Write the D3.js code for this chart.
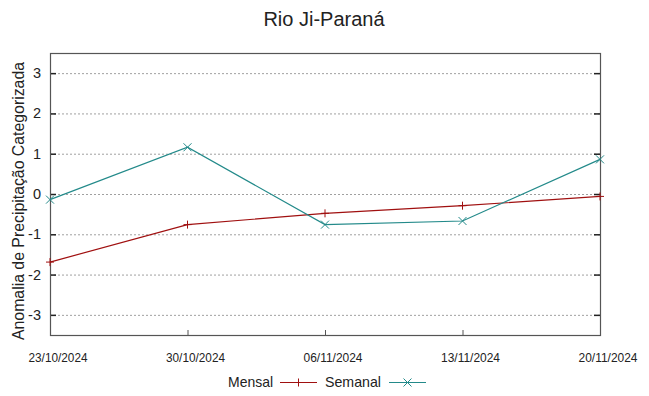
<!DOCTYPE html>
<meta charset="utf-8">
<style>
body { margin: 0; background: #fff; }
text { font-family: "Liberation Sans", Arial, sans-serif; fill: #222; }
.grid line { stroke: #a0a0a0; stroke-dasharray: 2,2; stroke-width: 1; }
</style>
<svg width="649" height="396"></svg>
<script src="https://d3js.org/d3.v7.min.js"></script>
<script>

var dates = ["23/10/2024", "30/10/2024", "06/11/2024", "13/11/2024", "20/11/2024"];
var mensal = [-1.69, -0.76, -0.48, -0.29, -0.06];
var semanal = [-0.14, 1.16, -0.76, -0.67, 0.86];
var yTicks = [-3, -2, -1, 0, 1, 2, 3];

var svg = d3.select("svg");
var pLeft = 50, pRight = 600, pTop = 53, pBottom = 335;

var parse = d3.timeParse("%d/%m/%Y");

var x = d3.scaleTime()
    .domain([parse(dates[0]), parse(dates[dates.length - 1])])
    .range([pLeft, pRight]);

var y = d3.scaleLinear()
    .domain([-3.5, 3.5])
    .range([pBottom, pTop]);

// grid
svg.append("g")
    .attr("class", "grid")
  .selectAll("line")
  .data(yTicks)
  .enter().append("line")
    .attr("x1", pLeft).attr("x2", pRight)
    .attr("y1", function(d) { return y(d) + 0.5; })
    .attr("y2", function(d) { return y(d) + 0.5; });

// y labels
svg.append("g").selectAll("text")
  .data(yTicks)
  .enter().append("text")
    .attr("x", 41)
    .attr("y", function(d) { return y(d) + 5; })
    .attr("text-anchor", "end")
    .style("font-size", "14.5px")
    .text(function(d) { return d; });

// tick marks left/right/bottom
var ticks = svg.append("g").attr("stroke", "#222").attr("stroke-width", 1.5);
yTicks.forEach(function(d) {
  ticks.append("line").attr("x1", pLeft).attr("x2", pLeft + 6)
      .attr("y1", y(d) + 0.5).attr("y2", y(d) + 0.5);
  ticks.append("line").attr("x1", pRight - 6).attr("x2", pRight)
      .attr("y1", y(d) + 0.5).attr("y2", y(d) + 0.5);
});
dates.forEach(function(d) {
  ticks.append("line")
      .attr("x1", x(parse(d)) + 0.5).attr("x2", x(parse(d)) + 0.5)
      .attr("y1", pBottom).attr("y2", pBottom - 5)
      .attr("stroke-width", 1).attr("stroke", "#555");
});

// x labels
svg.append("g").selectAll("text")
  .data(dates)
  .enter().append("text")
    .attr("x", function(d) { return x(parse(d)) + 8; })
    .attr("y", 362)
    .attr("text-anchor", "middle")
    .attr("textLength", 59)
    .attr("lengthAdjust", "spacingAndGlyphs")
    .style("font-size", "13px")
    .text(function(d) { return d; });

// border
svg.append("rect")
    .attr("x", pLeft + 0.5).attr("y", pTop + 0.5)
    .attr("width", pRight - pLeft).attr("height", pBottom - pTop)
    .attr("fill", "none")
    .attr("stroke", "#555")
    .attr("stroke-width", 1.2);

var line = d3.line()
    .x(function(d, i) { return x(parse(dates[i])); })
    .y(function(d) { return y(d); });

function plus(g, cx, cy, color) {
  g.append("path").attr("d", "M" + (cx - 4) + "," + cy + "H" + (cx + 4) + "M" + cx + "," + (cy - 4) + "V" + (cy + 4))
      .attr("stroke", color).attr("stroke-width", 1).attr("fill", "none");
}
function cross(g, cx, cy, color) {
  g.append("path").attr("d", "M" + (cx - 4) + "," + (cy - 4) + "L" + (cx + 4) + "," + (cy + 4) +
      "M" + (cx - 4) + "," + (cy + 4) + "L" + (cx + 4) + "," + (cy - 4))
      .attr("stroke", color).attr("stroke-width", 1).attr("fill", "none");
}

var cM = "#a01010", cS = "#238a8a";

var gM = svg.append("g");
gM.append("path").datum(mensal).attr("d", line)
    .attr("fill", "none").attr("stroke", cM).attr("stroke-width", 1.2);
mensal.forEach(function(v, i) { plus(gM, x(parse(dates[i])), y(v), cM); });

var gS = svg.append("g");
gS.append("path").datum(semanal).attr("d", line)
    .attr("fill", "none").attr("stroke", cS).attr("stroke-width", 1.2);
semanal.forEach(function(v, i) { cross(gS, x(parse(dates[i])), y(v), cS); });

// title
svg.append("text")
    .attr("x", 324).attr("y", 26)
    .attr("text-anchor", "middle")
    .style("font-size", "20px")
    .text("Rio Ji-Paraná");

// y axis title
svg.append("text")
    .attr("transform", "translate(24,201) rotate(-90)")
    .attr("text-anchor", "middle")
    .attr("textLength", 278)
    .attr("lengthAdjust", "spacingAndGlyphs")
    .style("font-size", "16px")
    .text("Anomalia de Precipitação Categorizada");

// legend
var leg = svg.append("g");
leg.append("text").attr("x", 273).attr("y", 387).attr("text-anchor", "end")
    .attr("textLength", 45).attr("lengthAdjust", "spacingAndGlyphs")
    .style("font-size", "15px").text("Mensal");
leg.append("line").attr("x1", 280).attr("x2", 317).attr("y1", 382.5).attr("y2", 382.5)
    .attr("stroke", cM).attr("stroke-width", 1.2);
plus(leg, 298.5, 382.5, cM);
leg.append("text").attr("x", 381).attr("y", 387).attr("text-anchor", "end")
    .attr("textLength", 56).attr("lengthAdjust", "spacingAndGlyphs")
    .style("font-size", "15px").text("Semanal");
leg.append("line").attr("x1", 389).attr("x2", 426).attr("y1", 382.5).attr("y2", 382.5)
    .attr("stroke", cS).attr("stroke-width", 1.2);
cross(leg, 407.5, 382.5, cS);

</script>
